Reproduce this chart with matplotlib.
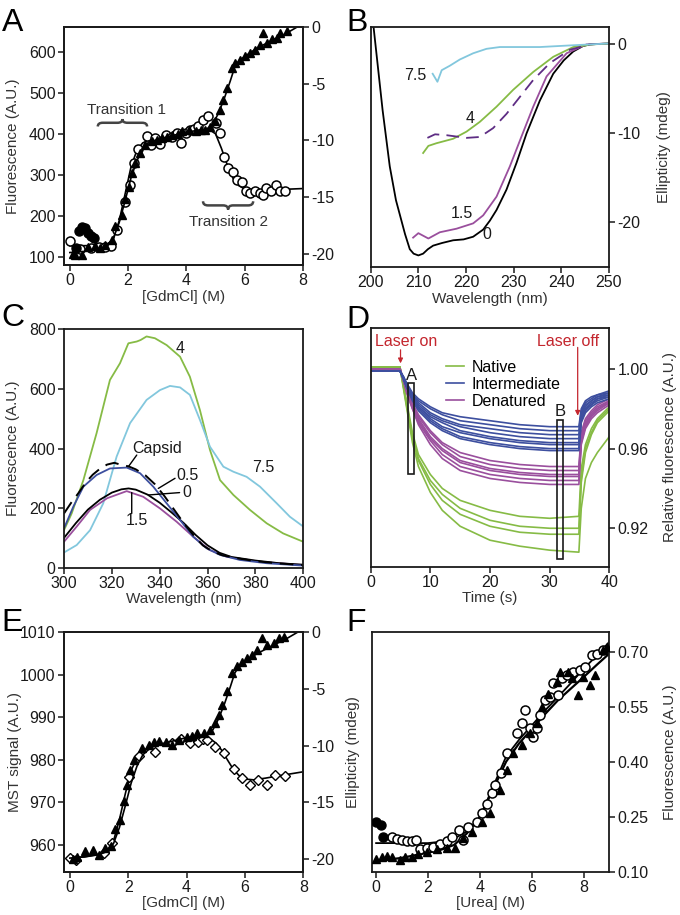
import matplotlib
matplotlib.use('Agg')
import matplotlib.pyplot as plt
from matplotlib.path import Path
from matplotlib.patches import PathPatch, Rectangle
from matplotlib.lines import Line2D

plt.rcParams['font.family'] = ['Liberation Sans', 'DejaVu Sans']
plt.rcParams['font.size'] = 11
plt.rcParams['axes.unicode_minus'] = False

# ---------------- Panel A data ----------------
A_circ_x = [0.0, 0.34, 0.74, 1.0, 1.19, 1.4, 1.62, 1.9, 2.07, 2.19, 2.34, 2.65, 2.79, 2.93, 3.1, 3.31,
            3.5, 3.66, 3.82, 4.0, 4.11, 4.25, 4.4, 4.57, 4.74, 5.0, 5.14, 5.28, 5.43, 5.6, 5.74, 5.92,
            6.03, 6.19, 6.34, 6.51, 6.63, 6.74, 6.91, 7.06, 7.2, 7.37]
A_circ_y = [140, 119, 122, 126, 126, 128, 166, 235, 276, 330, 363, 395, 373, 389, 375, 397,
            392, 401, 379, 402, 410, 412, 418, 434, 443, 427, 401, 343, 316, 308, 288, 284,
            260, 257, 260, 256, 251, 268, 260, 276, 262, 262]
A_fill_x = [0.2, 0.3, 0.42, 0.52, 0.62, 0.72, 0.82]
A_fill_y = [122, 163, 174, 172, 160, 152, 146]
A_tri_x = [0.1, 0.18, 0.41, 0.64, 0.87, 1.04, 1.2, 1.44, 1.56, 1.79, 1.9, 2.02, 2.13, 2.24, 2.42, 2.59,
           2.82, 3.0, 3.16, 3.35, 3.5, 3.7, 3.85, 4.08, 4.34, 4.5, 4.64, 4.81, 4.98, 5.15, 5.27,
           5.38, 5.56, 5.67, 5.84, 6.01, 6.19, 6.36, 6.53, 6.64, 6.76, 6.93, 7.1, 7.22, 7.45]
A_tri_r = [-20.0, -20.1, -20.1, -19.4, -19.3, -19.5, -19.2, -18.8, -17.6, -16.6, -15.2, -14.1, -12.9,
           -12.0, -11.1, -10.4, -10.1, -10.0, -9.8, -9.7, -9.5, -9.4, -9.2, -9.06, -9.2, -9.1, -9.06,
           -8.8, -8.3, -7.3, -6.4, -5.4, -3.6, -3.2, -2.9, -2.6, -2.3, -2.0, -1.56, -0.53, -1.4,
           -1.1, -1.0, -0.53, -0.39]
A_cfit_x = [0, 0.5, 1.0, 1.3, 1.5, 1.7, 1.9, 2.1, 2.3, 2.5, 2.8, 3.2, 3.8, 4.4, 4.8, 5.0, 5.2, 5.4,
            5.6, 5.8, 6.0, 6.3, 7.0, 8.0]
A_cfit_y = [128, 128, 129, 132, 145, 190, 255, 320, 360, 378, 388, 393, 400, 406, 410, 400, 365, 325,
            292, 274, 266, 263, 264, 267]
TRI_fit_x = [0, 0.5, 1.0, 1.3, 1.5, 1.7, 1.9, 2.1, 2.3, 2.5, 2.8, 3.2, 3.8, 4.4, 4.7, 4.9, 5.1, 5.3,
             5.5, 5.65, 5.8, 6.0, 6.4, 7.0, 7.4, 7.8, 8.0]
TRI_fit_r = [-19.9, -19.8, -19.6, -19.3, -18.6, -17.2, -15.3, -13.3, -11.8, -10.8, -10.1, -9.8, -9.4,
             -9.1, -9.0, -8.6, -7.6, -6.3, -4.8, -3.6, -3.0, -2.6, -1.9, -1.1, -0.6, 0.0, 0.3]

# ---------------- Panel B data ----------------
B0_wl = [200.2, 200.6, 202.5, 204.0, 205.3, 207.2, 208.2, 209.0, 210, 211, 212, 213.1, 215, 217.3,
         219.5, 221.5, 223.6, 225, 226.4, 228.5, 230.6, 232.7, 235.5, 238.3, 240.5, 242.5, 244.5, 246, 250]
B0_el = [4.0, 1.95, -7.4, -13.7, -17.5, -21.3, -23.0, -23.5, -23.7, -23.5, -23.0, -22.6, -22.3, -22.0,
         -21.9, -21.6, -20.8, -19.8, -18.6, -16.3, -13.3, -10.0, -6.3, -3.3, -1.8, -0.8, -0.2, 0.0, 0.1]
B15_wl = [208.9, 210, 212.1, 214.5, 218, 221.5, 223.6, 226.4, 229.2, 231.6, 234.1, 236.9, 241.1, 245.3, 250]
B15_el = [-21.7, -21.2, -21.8, -21.1, -20.7, -20.1, -19.2, -17.1, -13.7, -10.4, -7.0, -3.6, -1.0, 0.0, 0.1]
B4_wl = [211, 212.1, 213.8, 217.3, 220.1, 222.9, 226.4, 229.9, 234.1, 238.3, 242.5, 246.6, 250]
B4_el = [-12.2, -11.4, -11.1, -10.6, -9.8, -8.7, -7.0, -5.1, -3.1, -1.4, -0.3, 0.0, 0.1]
B5_wl = [211.9, 213.5, 215.9, 220.1, 222.9, 225.7, 228.5, 231.3, 234.1, 237.6, 241.8, 246, 250]
B5_el = [-10.5, -10.1, -10.2, -10.5, -10.4, -9.4, -7.8, -5.9, -4.0, -2.1, -0.6, 0.0, 0.1]
B75_wl = [213, 214, 214.9, 216.6, 218.7, 221.5, 224.3, 227.1, 235.5, 242.5, 250]
B75_el = [-3.3, -4.2, -2.9, -2.4, -1.7, -1.0, -0.5, -0.3, -0.3, -0.1, 0.1]

# ---------------- Panel C data ----------------
C4_wl = [300, 303.2, 308.1, 313.6, 319.2, 323.4, 326.9, 330.4, 332, 334.5, 338, 342.9, 348.5, 352.6,
         356.8, 361, 365.2, 370.8, 377.7, 384.7, 391.6, 400]
C4_f = [126, 182, 294, 451, 630, 686, 753, 759, 764, 776, 770, 747, 708, 641, 529, 395, 294, 244, 194,
        149, 115, 87]
C75_wl = [300, 305.3, 310.9, 316.4, 322, 327.6, 334.5, 340.1, 344.3, 348.5, 352.6, 356.8, 361, 366.6,
          370.8, 376.3, 381.9, 388.9, 394.4, 400]
C75_f = [51, 76, 126, 216, 373, 485, 563, 596, 610, 605, 580, 496, 406, 339, 322, 305, 272, 216, 171, 138]
C05_wl = [300, 303.9, 308.1, 313.6, 319.2, 326.2, 331.8, 337.3, 342.9, 348.5, 354, 359.6, 365.2, 373.5,
          384.7, 400]
C05_f = [132, 205, 272, 311, 333, 336, 317, 272, 216, 160, 104, 65, 43, 26, 15, 7]
Ccap_wl = [300, 303, 306, 309, 312, 315, 318, 321, 324, 327, 330, 334, 338, 342, 346, 350, 354, 358,
           362, 366, 372, 380, 390, 400]
Ccap_f = [182, 218, 250, 285, 312, 332, 346, 352, 345, 340, 330, 310, 280, 240, 195, 150, 110, 75, 55,
          42, 32, 22, 14, 9]
C0_wl = [300, 305, 310, 315, 320, 324, 327, 330, 335, 340, 345, 350, 355, 360, 365, 370, 380, 390, 400]
C0_f = [100, 150, 195, 228, 252, 263, 266, 262, 245, 218, 185, 150, 110, 75, 50, 36, 24, 15, 10]
C15_wl = [300, 305.3, 310.9, 318, 326.2, 333.1, 340.1, 347.1, 354, 361, 367.9, 381.9, 400]
C15_f = [87, 138, 194, 233, 257, 238, 199, 154, 104, 59, 37, 20, 9]

# ---------------- Panel D data ----------------
D_t = [0, 4.9, 5.5, 6, 7, 8, 10, 12, 15, 20, 25, 30, 34.9, 35.3, 36, 37, 38, 40]
D_native = [
    [1.001, 1.001, 0.992, 0.984, 0.968, 0.957, 0.947, 0.940, 0.934, 0.929, 0.926, 0.925, 0.926, 0.950, 0.962, 0.970, 0.975, 0.981],
    [1.001, 1.001, 0.991, 0.983, 0.966, 0.955, 0.944, 0.937, 0.930, 0.924, 0.921, 0.920, 0.920, 0.945, 0.960, 0.968, 0.974, 0.980],
    [1.001, 1.001, 0.991, 0.982, 0.965, 0.954, 0.942, 0.934, 0.927, 0.921, 0.918, 0.917, 0.917, 0.943, 0.958, 0.967, 0.973, 0.979],
    [1.001, 1.001, 0.990, 0.981, 0.963, 0.951, 0.938, 0.929, 0.921, 0.914, 0.911, 0.909, 0.908, 0.930, 0.945, 0.953, 0.958, 0.966],
]
D_inter = [
    [0.999, 0.999, 0.996, 0.993, 0.988, 0.985, 0.981, 0.978, 0.976, 0.974, 0.972, 0.971, 0.971, 0.980, 0.984, 0.986, 0.987, 0.989],
    [0.999, 0.999, 0.996, 0.993, 0.987, 0.984, 0.980, 0.977, 0.974, 0.972, 0.970, 0.969, 0.969, 0.979, 0.983, 0.985, 0.987, 0.988],
    [0.999, 0.999, 0.996, 0.992, 0.987, 0.983, 0.978, 0.975, 0.972, 0.970, 0.968, 0.967, 0.967, 0.978, 0.982, 0.984, 0.986, 0.988],
    [0.999, 0.999, 0.995, 0.992, 0.986, 0.982, 0.977, 0.974, 0.971, 0.968, 0.966, 0.965, 0.965, 0.977, 0.981, 0.984, 0.986, 0.987],
    [0.999, 0.999, 0.995, 0.992, 0.986, 0.981, 0.976, 0.973, 0.969, 0.966, 0.964, 0.963, 0.963, 0.976, 0.980, 0.983, 0.985, 0.987],
    [0.999, 0.999, 0.995, 0.991, 0.985, 0.981, 0.975, 0.971, 0.968, 0.965, 0.963, 0.962, 0.962, 0.975, 0.980, 0.982, 0.985, 0.986],
    [0.999, 0.999, 0.995, 0.991, 0.985, 0.980, 0.974, 0.970, 0.966, 0.963, 0.961, 0.960, 0.960, 0.974, 0.979, 0.982, 0.984, 0.986],
    [0.999, 0.999, 0.995, 0.991, 0.984, 0.979, 0.973, 0.969, 0.965, 0.962, 0.960, 0.959, 0.959, 0.973, 0.978, 0.981, 0.983, 0.985],
]
D_denat = [
    [1.0, 1.0, 0.995, 0.990, 0.983, 0.977, 0.969, 0.963, 0.958, 0.954, 0.952, 0.951, 0.951, 0.968, 0.975, 0.979, 0.982, 0.985],
    [1.0, 1.0, 0.995, 0.990, 0.982, 0.976, 0.968, 0.962, 0.956, 0.952, 0.950, 0.949, 0.949, 0.967, 0.974, 0.978, 0.981, 0.984],
    [1.0, 1.0, 0.995, 0.989, 0.982, 0.975, 0.966, 0.960, 0.954, 0.950, 0.948, 0.947, 0.947, 0.966, 0.973, 0.977, 0.980, 0.984],
    [1.0, 1.0, 0.994, 0.989, 0.981, 0.974, 0.965, 0.959, 0.953, 0.949, 0.947, 0.946, 0.946, 0.965, 0.972, 0.977, 0.980, 0.983],
    [1.0, 1.0, 0.994, 0.989, 0.980, 0.973, 0.964, 0.957, 0.951, 0.947, 0.945, 0.944, 0.944, 0.963, 0.971, 0.976, 0.979, 0.983],
    [1.0, 1.0, 0.994, 0.988, 0.980, 0.972, 0.962, 0.955, 0.949, 0.945, 0.943, 0.942, 0.942, 0.962, 0.970, 0.975, 0.978, 0.982],
]
D_labels = ['Native', 'Intermediate', 'Denatured']

# ---------------- Panel E data ----------------
E_dia_x = [0.0, 0.2, 1.16, 1.44, 2.02, 2.36, 2.93, 3.5, 3.8, 4.13, 4.4, 4.55, 4.7, 4.98, 5.27, 5.61,
           5.89, 6.17, 6.46, 6.74, 7.03, 7.37]
E_dia_y = [956.9, 956.5, 958.0, 960.5, 975.9, 980.8, 981.8, 984.0, 985.0, 983.9, 984.3, 985.0, 984.7,
           983.1, 981.6, 977.9, 975.7, 974.1, 975.3, 974.1, 976.5, 976.3]
E_tri_x = [0.1, 0.24, 0.53, 0.81, 0.99, 1.21, 1.4, 1.56, 1.73, 1.84, 1.96, 2.07, 2.19, 2.47, 2.7, 2.9,
           3.05, 3.3, 3.5, 3.74, 4.02, 4.2, 4.35, 4.6, 4.81, 4.98, 5.1, 5.21, 5.38, 5.56, 5.73, 5.9,
           6.07, 6.24, 6.41, 6.59, 6.76, 6.99, 7.16, 7.33]
E_tri_r = [-20.0, -19.8, -19.3, -19.2, -19.6, -19.0, -18.8, -17.3, -16.5, -14.9, -13.5, -12.1, -11.25,
           -10.2, -9.9, -9.7, -9.6, -9.7, -9.9, -9.5, -9.2, -9.1, -8.9, -8.9, -8.6, -8.0, -7.3, -6.4,
           -5.2, -3.6, -3.0, -2.6, -2.3, -2.0, -1.56, -0.53, -1.1, -0.97, -0.53, -0.39]
E_dfit_x = [0, 0.5, 1.0, 1.3, 1.5, 1.7, 1.9, 2.1, 2.3, 2.6, 3.0, 3.5, 4.0, 4.5, 4.8, 5.0, 5.2, 5.4,
            5.6, 5.8, 6.0, 6.3, 6.7, 7.2, 8.0]
E_dfit_y = [957.0, 957.2, 957.8, 958.8, 961, 966, 972, 977.5, 980.5, 982.5, 983.5, 984.2, 984.8, 985.1,
            985.0, 984.0, 982.3, 980.0, 977.8, 976.3, 975.5, 975.3, 975.7, 976.3, 977.2]

# ---------------- Panel F data ----------------
F_fill_x = [0.0, 0.18, 0.28]
F_fill_y = [0.236, 0.227, 0.195]
F_circ_x = [0.6, 0.79, 0.99, 1.18, 1.37, 1.54, 1.69, 1.95, 2.2, 2.46, 2.72, 2.91, 3.17, 3.36, 3.55, 3.87,
            4.06, 4.26, 4.45, 4.58, 4.8, 5.03, 5.41, 5.6, 5.73, 5.92, 6.05, 6.18, 6.31, 6.5, 6.69, 6.82,
            7.01, 7.14, 7.33, 7.59, 7.85, 8.04, 8.29, 8.49, 8.74]
F_circ_y = [0.194, 0.19, 0.186, 0.185, 0.185, 0.186, 0.161, 0.166, 0.168, 0.175, 0.185, 0.195, 0.214,
            0.186, 0.223, 0.236, 0.259, 0.286, 0.314, 0.336, 0.37, 0.423, 0.477, 0.505, 0.541, 0.491,
            0.468, 0.491, 0.527, 0.568, 0.577, 0.614, 0.582, 0.627, 0.636, 0.645, 0.65, 0.659, 0.691,
            0.695, 0.705]
F_tri_x = [0.0, 0.22, 0.41, 0.6, 0.92, 1.12, 1.37, 1.63, 1.95, 2.33, 2.72, 3.04, 3.36, 3.68, 4.06, 4.38,
           4.77, 5.03, 5.28, 5.6, 5.92, 6.18, 6.37, 6.63, 6.95, 7.08, 7.4, 7.53, 7.78, 7.97, 8.23, 8.42,
           8.74, 8.87]
F_tri_y = [0.136, 0.141, 0.143, 0.141, 0.132, 0.139, 0.141, 0.148, 0.155, 0.161, 0.165, 0.166, 0.191,
           0.209, 0.236, 0.259, 0.323, 0.377, 0.423, 0.445, 0.477, 0.505, 0.55, 0.586, 0.618, 0.645,
           0.645, 0.627, 0.582, 0.632, 0.609, 0.636, 0.705, 0.714]
F_fit_x = [0, 1, 2, 2.5, 3, 3.5, 4, 4.5, 5, 5.5, 6, 6.5, 7, 7.5, 8, 8.5, 8.97]
F_cfit_y = [0.178, 0.178, 0.178, 0.182, 0.19, 0.21, 0.25, 0.332, 0.414, 0.46, 0.50, 0.54, 0.577, 0.615,
            0.655, 0.69, 0.727]
F_tfit_y = [0.128, 0.138, 0.152, 0.16, 0.173, 0.205, 0.25, 0.325, 0.40, 0.45, 0.49, 0.53, 0.568, 0.60,
            0.632, 0.665, 0.695]

# ---------------- styling ----------------
GREEN = '#86bb45'
CYAN = '#82c7dd'
BLUE = '#3d4f9f'
PURPLE = '#9a4f9d'
DPURPLE = '#5e2d84'
RED = '#c4262e'
INK = '#1a1a1a'

W, H = 680, 915
fig = plt.figure(figsize=(W / 100, H / 100), dpi=100)


def make_ax(l, r, t, b):
    return fig.add_axes([l / W, 1 - b / H, (r - l) / W, (b - t) / H])


def style(ax):
    for s in ax.spines.values():
        s.set_linewidth(1.3)
        s.set_color(INK)
    ax.tick_params(direction='out', length=4, width=1.1, labelsize=11.5, colors=INK, pad=2)


def brace(ax, x1, x2, y0, h, s, **kw):
    xm = (x1 + x2) / 2
    w = 0.1 * (x2 - x1)
    ym = y0 + s * h / 2
    verts = [(x1, y0), (x1, ym), (x1 + w, ym), (xm - w, ym), (xm, ym), (xm, y0 + s * h),
             (xm, ym), (xm + w, ym), (x2 - w, ym), (x2, ym), (x2, y0)]
    codes = [Path.MOVETO, Path.CURVE3, Path.CURVE3, Path.LINETO, Path.CURVE3, Path.CURVE3,
             Path.CURVE3, Path.CURVE3, Path.LINETO, Path.CURVE3, Path.CURVE3]
    ax.add_patch(PathPatch(Path(verts, codes), fill=False, **kw))


mk = dict(color='black', linestyle='none')

# ---------------- A ----------------
axA = make_ax(64, 303, 27, 265)
axAr = axA.twinx()
style(axA); style(axAr)
axA.plot(A_cfit_x, A_cfit_y, color='black', lw=1.2, zorder=2)
axA.plot(A_circ_x, A_circ_y, marker='o', ms=6.5, mfc='white', mec='black', mew=1.1, **mk, zorder=3)
axA.plot(A_fill_x, A_fill_y, marker='o', ms=6.5, mfc='black', mec='black', **mk, zorder=3)
axAr.plot(TRI_fit_x, TRI_fit_r, color='black', lw=1.2)
axAr.plot(A_tri_x, A_tri_r, marker='^', ms=6, mfc='black', mec='black', **mk)
axA.set_xlim(-0.2, 8)
axA.set_ylim(81, 660)
axAr.set_ylim(-21, 0)
axA.set_xticks([0, 2, 4, 6, 8])
axA.set_yticks([100, 200, 300, 400, 500, 600])
axAr.set_yticks([0, -5, -10, -15, -20])
axA.set_xlabel('[GdmCl] (M)', fontsize=11, color='#333', labelpad=1)
axA.set_ylabel('Fluorescence (A.U.)', fontsize=11, color='#333')
axA.yaxis.set_label_coords(-0.183, 0.5)
brace(axA, 0.96, 2.65, 418, 18, 1, lw=1.8, edgecolor='#444')
brace(axA, 4.57, 6.29, 236, 20, -1, lw=1.8, edgecolor='#444')
axA.text(1.95, 458, 'Transition 1', ha='center', va='center', fontsize=11, color='#333')
axA.text(5.43, 186, 'Transition 2', ha='center', va='center', fontsize=11, color='#333')

# ---------------- B ----------------
axB = make_ax(370.7, 609, 27, 267)
style(axB)
axB.plot(B0_wl, B0_el, color='black', lw=1.3)
axB.plot(B15_wl, B15_el, color=PURPLE, lw=1.3)
axB.plot(B4_wl, B4_el, color=GREEN, lw=1.3)
axB.plot(B5_wl, B5_el, color=DPURPLE, lw=1.3, dashes=(7, 4))
axB.plot(B75_wl, B75_el, color=CYAN, lw=1.3)
axB.set_xlim(200, 250)
axB.set_ylim(-25, 1.95)
axB.yaxis.tick_right()
axB.yaxis.set_label_position('right')
axB.set_yticks([0, -10, -20])
axB.set_xticks([200, 210, 220, 230, 240, 250])
axB.set_xlabel('Wavelength (nm)', fontsize=11, color='#333', labelpad=1)
axB.set_ylabel('Ellipticity (mdeg)', fontsize=11, color='#333')
axB.yaxis.set_label_coords(1.2, 0.5)
for txt, x, y in [('7.5', 209.3, -3.45), ('4', 220.8, -8.3), ('1.5', 219.1, -19.0), ('0', 224.3, -21.4)]:
    axB.text(x, y, txt, ha='center', va='center', fontsize=11.5, color=INK)

# ---------------- C ----------------
axC = make_ax(64, 303.3, 329.3, 567.7)
style(axC)
axC.plot(C4_wl, C4_f, color=GREEN, lw=1.3)
axC.plot(C75_wl, C75_f, color=CYAN, lw=1.3)
axC.plot(C15_wl, C15_f, color=PURPLE, lw=1.3)
axC.plot(C0_wl, C0_f, color='black', lw=1.3)
axC.plot(C05_wl, C05_f, color=BLUE, lw=1.3)
axC.plot(Ccap_wl, Ccap_f, color='black', lw=1.4, dashes=(7, 4))
axC.set_xlim(300, 400)
axC.set_ylim(0, 800)
axC.set_xticks([300, 320, 340, 360, 380, 400])
axC.set_yticks([0, 200, 400, 600, 800])
axC.set_xlabel('Wavelength (nm)', fontsize=11, color='#333', labelpad=1)
axC.set_ylabel('Fluorescence (A.U.)', fontsize=11, color='#333')
axC.yaxis.set_label_coords(-0.183, 0.5)
axC.text(348.5, 737, '4', ha='center', va='center', fontsize=11.5, color=INK)
axC.text(383.2, 335, '7.5', ha='center', va='center', fontsize=11.5, color=INK)
axC.text(338.9, 401, 'Capsid', ha='center', va='center', fontsize=11.5, color=INK)
axC.text(351.4, 311, '0.5', ha='center', va='center', fontsize=11.5, color=INK)
axC.text(349.5, 251, '0', ha='left', va='center', fontsize=11.5, color=INK)
axC.text(330.5, 160, '1.5', ha='center', va='center', fontsize=11.5, color=INK)
for (x1, y1, x2, y2) in [(330.4, 378, 326.9, 339), (346.4, 300, 339.4, 266),
                         (348.3, 252, 335.2, 244), (328.3, 182, 328.3, 252)]:
    axC.annotate('', xy=(x2, y2), xytext=(x1, y1),
                 arrowprops=dict(arrowstyle='-', color='black', lw=1.0, shrinkA=0, shrinkB=0))

# ---------------- D ----------------
axD = make_ax(370.7, 609.3, 328.3, 566.7)
style(axD)
for tr in D_native:
    axD.plot(D_t, tr, color=GREEN, lw=1.2)
for tr in D_denat:
    axD.plot(D_t, tr, color=PURPLE, lw=1.2)
for tr in D_inter:
    axD.plot(D_t, tr, color=BLUE, lw=1.2)
axD.set_xlim(0, 40)
axD.set_ylim(0.9007, 1.0204)
axD.yaxis.tick_right()
axD.yaxis.set_label_position('right')
axD.set_yticks([0.92, 0.96, 1.00])
axD.set_yticklabels(['0.92', '0.96', '1.00'])
axD.set_xticks([0, 10, 20, 30, 40])
axD.set_xlabel('Time (s)', fontsize=11, color='#333', labelpad=1)
axD.set_ylabel('Relative fluorescence (A.U.)', fontsize=11, color='#333')
axD.yaxis.set_label_coords(1.225, 0.5)
axD.add_patch(Rectangle((6.3, 0.9471), 1.0, 0.9928 - 0.9471, fill=False, lw=1.2, edgecolor=INK, zorder=5))
axD.add_patch(Rectangle((31.2, 0.9046), 1.1, 0.9744 - 0.9046, fill=False, lw=1.2, edgecolor=INK, zorder=5))
axD.text(6.87, 0.9968, 'A', ha='center', va='center', fontsize=12, color=INK)
axD.text(31.75, 0.9786, 'B', ha='center', va='center', fontsize=12, color=INK)
axD.text(6.0, 1.0137, 'Laser on', ha='center', va='center', fontsize=11.5, color=RED)
axD.text(33.1, 1.0137, 'Laser off', ha='center', va='center', fontsize=11.5, color=RED)
axD.annotate('', xy=(5.0, 1.0028), xytext=(5.0, 1.0096),
             arrowprops=dict(arrowstyle='-|>', color=RED, lw=0.9, mutation_scale=7, shrinkA=0, shrinkB=0))
axD.annotate('', xy=(34.7, 0.9765), xytext=(34.7, 1.0108),
             arrowprops=dict(arrowstyle='-|>', color=RED, lw=0.9, mutation_scale=7, shrinkA=0, shrinkB=0))
handles = [Line2D([], [], color=c, lw=1.2) for c in (GREEN, BLUE, PURPLE)]
axD.legend(handles, D_labels, loc='upper left', bbox_to_anchor=(0.27, 0.915), frameon=False,
           fontsize=11.5, handlelength=1.1, handletextpad=0.5, labelspacing=0.12, borderpad=0.2)

# ---------------- E ----------------
axE = make_ax(64, 303.3, 632.3, 871.7)
axEr = axE.twinx()
style(axE); style(axEr)
axE.plot(E_dfit_x, E_dfit_y, color='black', lw=1.2)
axE.plot(E_dia_x, E_dia_y, marker='D', ms=5, mfc='white', mec='black', mew=1.0, **mk, zorder=3)
axEr.plot(TRI_fit_x, TRI_fit_r, color='black', lw=1.2)
axEr.plot(E_tri_x, E_tri_r, marker='^', ms=6, mfc='black', mec='black', **mk)
axE.set_xlim(-0.2, 8)
axE.set_ylim(953.7, 1010)
axEr.set_ylim(-21.1, 0)
axE.set_xticks([0, 2, 4, 6, 8])
axE.set_yticks([960, 970, 980, 990, 1000, 1010])
axEr.set_yticks([0, -5, -10, -15, -20])
axE.set_xlabel('[GdmCl] (M)', fontsize=11, color='#333', labelpad=1)
axE.set_ylabel('MST signal (A.U.)', fontsize=11, color='#333')
axE.yaxis.set_label_coords(-0.176, 0.5)

# ---------------- F ----------------
axF = make_ax(371.7, 609.3, 632.3, 871.7)
style(axF)
axF.plot(F_fit_x, F_cfit_y, color='black', lw=1.3)
axF.plot(F_fit_x, F_tfit_y, color='black', lw=1.6)
axF.plot(F_circ_x, F_circ_y, marker='o', ms=6.5, mfc='white', mec='black', mew=1.1, **mk, zorder=3)
axF.plot(F_fill_x, F_fill_y, marker='o', ms=6.5, mfc='black', mec='black', **mk, zorder=3)
axF.plot(F_tri_x, F_tri_y, marker='^', ms=6, mfc='black', mec='black', **mk, zorder=3)
axF.set_xlim(-0.17, 8.97)
axF.set_ylim(0.10, 0.753)
axF.yaxis.tick_right()
axF.yaxis.set_label_position('right')
axF.set_yticks([0.10, 0.25, 0.40, 0.55, 0.70])
axF.set_yticklabels(['0.10', '0.25', '0.40', '0.55', '0.70'])
axF.set_xticks([0, 2, 4, 6, 8])
axF.set_xlabel('[Urea] (M)', fontsize=11, color='#333', labelpad=1)
axF.set_ylabel('Fluorescence (A.U.)', fontsize=11, color='#333')
axF.yaxis.set_label_coords(1.225, 0.5)
axF.text(-0.048, 0.5, 'Ellipticity (mdeg)', transform=axF.transAxes, rotation=90,
         ha='right', va='center', fontsize=11, color='#333')

# ---------------- panel letters ----------------
for letter, x, y in [('A', 2, 8), ('B', 346, 8), ('C', 1, 303), ('D', 346, 305), ('E', 1, 608), ('F', 346, 608)]:
    fig.text(x / W, 1 - y / H, letter, fontsize=23, ha='left', va='top', color='black')

fig.savefig('out.png', dpi=100)
